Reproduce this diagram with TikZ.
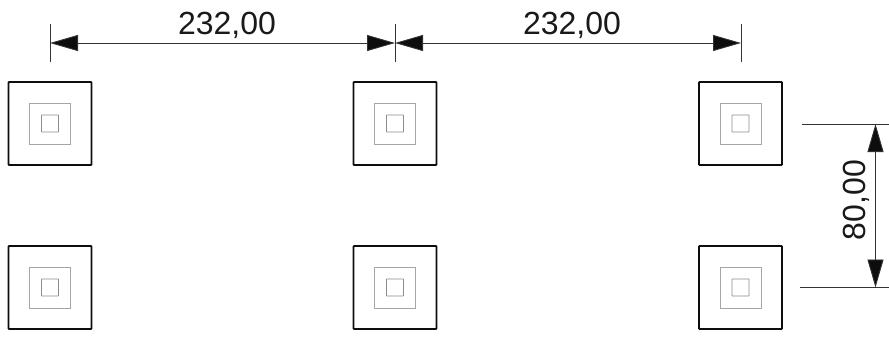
\documentclass[tikz,border=0pt]{standalone}
\usepackage{fontspec}
\setmainfont{Liberation Sans}
\usetikzlibrary{arrows.meta}
\tikzset{
  x=0.75pt,y=-0.75pt,
  outerbox/.style={draw=black!95,line width=1.4pt,minimum size=62.25pt,inner sep=0pt,rounded corners=0.6pt},
  midbox/.style={draw=black!35,line width=0.5pt,minimum size=30.75pt,inner sep=0pt},
  smallbox/.style={draw=black!45,line width=0.6pt,minimum size=12.75pt,inner sep=0pt,rounded corners=0.3pt},
  dimline/.style={draw=black!80,line width=0.65pt},
  dimarrow/.style={dimline,{Triangle[length=21pt,width=12pt,fill=black!95]}-{Triangle[length=21pt,width=12pt,fill=black!95]},shorten <=0pt,shorten >=0pt},
  dimtext/.style={inner sep=0pt,font=\fontsize{24}{24}\selectfont,text=black!90}
}
\begin{document}
\begin{tikzpicture}
\useasboundingbox (0,0) rectangle (889,336);
\foreach \n/\cx/\cy in {a/50/123.5,b/395/123.5,c/740.5/123.5,d/50/287.5,e/395/287.5,f/740.5/287.5}{
  \node[outerbox] (\n o) at (\cx,\cy) {};
  \node[midbox] (\n m) at (\cx,\cy) {};
  \node[smallbox] (\n s) at (\cx,\cy) {};
}
\coordinate (t1a) at (50,24); \coordinate (t1b) at (50,62);
\coordinate (t2a) at (395,24); \coordinate (t2b) at (395,62);
\coordinate (t3a) at (741,24); \coordinate (t3b) at (741,62);
\coordinate (h1) at (50,43); \coordinate (h2) at (395,43); \coordinate (h3) at (741,43);
\draw[dimline] (t1a) -- (t1b);
\draw[dimline] (t2a) -- (t2b);
\draw[dimline] (t3a) -- (t3b);
\draw[dimarrow] (h1) -- (h2);
\draw[dimarrow] (h2) -- (h3);
\coordinate (e1a) at (802,124); \coordinate (e1b) at (889,124);
\coordinate (e2a) at (800,287.5); \coordinate (e2b) at (889,287.5);
\coordinate (v1) at (875.5,124); \coordinate (v2) at (875.5,287.5);
\draw[dimline] (e1a) -- (e1b);
\draw[dimline] (e2a) -- (e2b);
\draw[dimarrow] (v1) -- (v2);
\node[dimtext,anchor=base] (l1) at (227,34) {232,00};
\node[dimtext,anchor=base] (l2) at (572,34) {232,00};
\node[dimtext,anchor=base,rotate=90] (l3) at (865,200) {80,00};
\end{tikzpicture}
\end{document}
